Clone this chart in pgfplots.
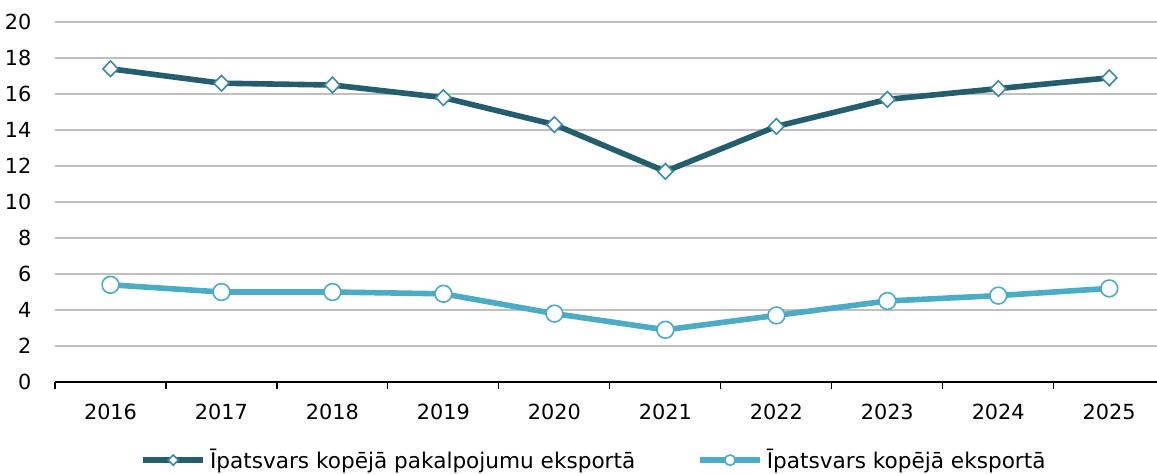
\documentclass[border=0pt]{standalone}
\usepackage{fontspec}
\setmainfont{DejaVu Sans}
\usepackage{pgfplots}
\pgfplotsset{compat=1.18}

\definecolor{darkteal}{HTML}{245E6E}
\definecolor{darkmark}{HTML}{3A8CA0}
\definecolor{lightblue}{HTML}{4BACC6}
\definecolor{gridgray}{HTML}{C0C0C0}

\begin{document}
\begin{tikzpicture}
  % frame of the picture: 1px = 0.5pt
  \useasboundingbox (-27.5pt,-45.5pt) rectangle (551pt,191pt);
  \begin{axis}[
      scale only axis,
      width=551pt, height=180pt,
      anchor=south west, at={(0,0)},
      xmin=2015.5, xmax=2025.43,
      ymin=0, ymax=20,
      ytick={0,2,...,20},
      xtick={2016,...,2025},
      minor xtick={2015.5,2016.5,...,2024.5},
      major x tick style={draw=none},
      minor x tick style={black, line width=0.6pt},
      minor tick length=3.5pt,
      tick align=outside,
      major y tick style={draw=none},
      axis x line*=bottom,
      axis y line*=left,
      y axis line style={draw=none},
      x axis line style={black, line width=0.6pt, -},
      ymajorgrids,
      grid style={gridgray, line width=0.8pt},
      xticklabel style={yshift=-3pt},
      yticklabel style={xshift=-4pt},
      /pgf/number format/assume math mode=true,
      /pgf/number format/1000 sep={},
      tick label style={font=\fontsize{10.4}{12}\selectfont},
      clip=false,
      legend columns=2,
      legend style={
        at={(0.49,-0.217)}, anchor=center,
        draw=none, fill=none,
        font=\fontsize{10.8}{12}\selectfont,
        /tikz/every even column/.append style={column sep=29pt},
      },
      legend image code/.code={
        \draw[#1, mark=none] (0pt,0pt) -- (30pt,0pt);
        \draw[#1, line width=0.7pt, mark size=2.6pt] plot coordinates {(15pt,0pt)};
      },
    ]
    \addplot[darkteal, line width=2.8pt, mark=diamond*,
             mark size=3.9pt,
             mark options={fill=white, draw=darkmark, line width=0.8pt, xscale=1.3}]
      coordinates {
        (2016,17.4) (2017,16.6) (2018,16.5) (2019,15.8) (2020,14.3)
        (2021,11.7) (2022,14.2) (2023,15.7) (2024,16.3) (2025,16.9)
      };
    \addlegendentry{Īpatsvars kopējā pakalpojumu eksportā}
    \addplot[lightblue, line width=2.8pt, mark=*,
             mark size=4.2pt,
             mark options={fill=white, draw=lightblue, line width=0.8pt}]
      coordinates {
        (2016,5.4) (2017,5.0) (2018,5.0) (2019,4.9) (2020,3.8)
        (2021,2.9) (2022,3.7) (2023,4.5) (2024,4.8) (2025,5.2)
      };
    \addlegendentry{Īpatsvars kopējā eksportā}
  \end{axis}
\end{tikzpicture}
\end{document}
